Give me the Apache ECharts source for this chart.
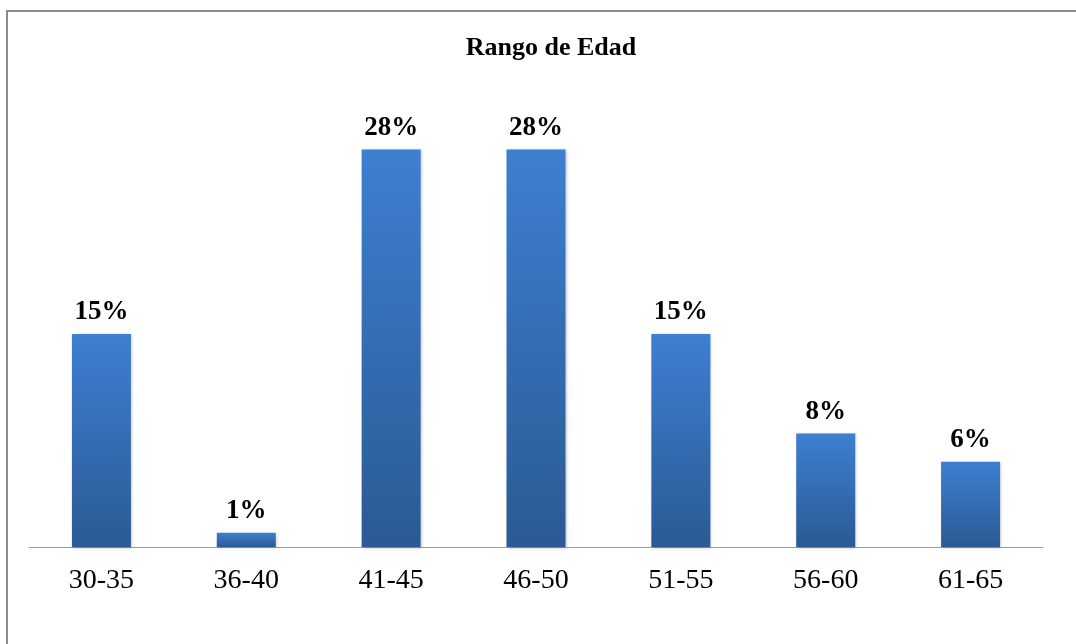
<!DOCTYPE html>
<html>
<head>
<meta charset="utf-8">
<script src="https://cdn.jsdelivr.net/npm/echarts@6/dist/echarts.min.js"></script>
<style>
  html, body { margin: 0; padding: 0; background: #fff; }
  #chart { width: 1076px; height: 644px; }
</style>
</head>
<body>
<div id="chart"></div>
<script>
// Age ranges and share of respondents (%)
const categories = ['30-35', '36-40', '41-45', '46-50', '51-55', '56-60', '61-65'];
const shares = [15, 1, 28, 28, 15, 8, 6];

const serif = '"Liberation Serif", "Times New Roman", serif';
const chart = echarts.init(document.getElementById('chart'));

chart.setOption({
  backgroundColor: '#ffffff',
  animation: false,
  title: {
    text: 'Rango de Edad',
    left: 546,
    top: 30,
    textAlign: 'center',
    textStyle: { fontFamily: serif, fontWeight: 'bold', fontSize: 26, color: '#000' }
  },
  graphic: [{
    type: 'rect',
    shape: { x: 7, y: 11, width: 1200, height: 800 },
    style: { fill: 'none', stroke: '#8c8c8c', lineWidth: 2 },
    silent: true
  }],
  grid: { left: 29, right: 33, top: 121, bottom: 97 },
  xAxis: {
    type: 'category',
    data: categories,
    axisLine: { lineStyle: { color: '#9a9a9a', width: 1 } },
    axisTick: { show: false },
    axisLabel: { fontFamily: serif, fontSize: 28, color: '#000', margin: 20 }
  },
  yAxis: {
    type: 'value',
    min: 0,
    max: 30,
    show: false
  },
  series: [{
    type: 'bar',
    data: shares,
    barWidth: 59,
    itemStyle: {
      color: new echarts.graphic.LinearGradient(0, 0, 0, 1, [
        { offset: 0, color: '#3d7fd1' },
        { offset: 1, color: '#2b5a94' }
      ]),
      shadowColor: 'rgba(0,0,0,0.25)',
      shadowBlur: 3,
      shadowOffsetX: 1,
      shadowOffsetY: 1
    },
    label: {
      show: true,
      position: 'top',
      distance: 8,
      formatter: p => p.value + '%',
      fontFamily: serif,
      fontWeight: 'bold',
      fontSize: 27,
      color: '#000'
    }
  }]
});
</script>
</body>
</html>
